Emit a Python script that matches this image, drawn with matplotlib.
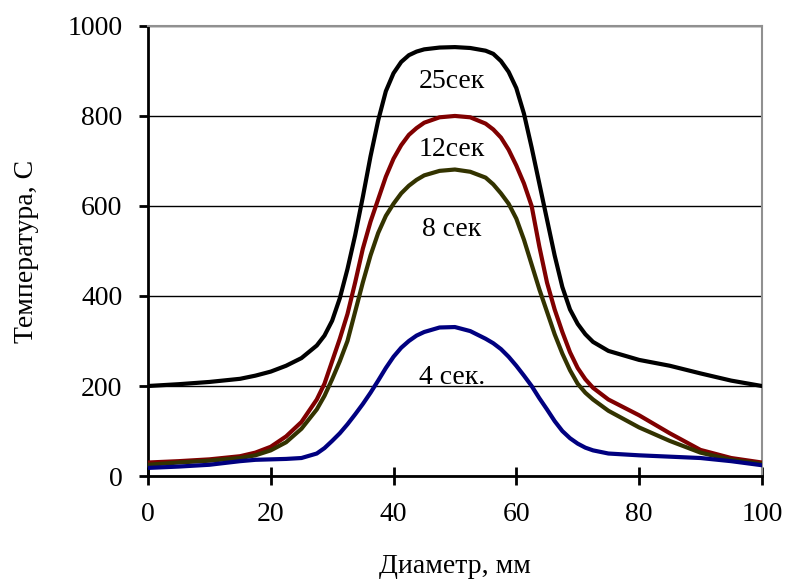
import matplotlib
matplotlib.use("Agg")
import matplotlib.pyplot as plt

plt.rcParams["font.family"] = ["Liberation Serif", "DejaVu Serif"]

# diameter, mm
x = [0, 5, 10, 15, 17.5, 20, 22.5, 25,
     27.5, 28.75, 30, 31.25, 32.5, 33.75, 35, 36.25, 37.5, 38.75, 40, 41.25, 42.5, 43.75, 45,
     47.5, 50, 52.5,
     55, 56.25, 57.5, 58.75, 60, 61.25, 62.5, 63.75, 65, 66.25, 67.5, 68.75, 70, 71.25, 72.5,
     75, 80, 85, 90, 95, 100]

# temperature, C
t25 = [200, 204, 209, 216, 223, 232, 245, 262,
       290, 312, 345, 395, 460, 535, 620, 710, 790, 855, 895, 920, 935, 943, 948,
       952, 953, 951,
       945, 938, 922, 898, 862, 805, 730, 650, 570, 490, 420, 370, 338, 315, 298,
       278, 258, 245, 228, 212, 200]
t12 = [30, 33, 37, 44, 52, 65, 88, 120,
       170, 205, 255, 305, 360, 430, 505, 565, 615, 665, 705, 735, 758, 773, 785,
       797, 800, 797,
       783, 770, 752, 725, 690, 650, 600, 510, 430, 370, 320, 275, 240, 215, 196,
       170, 135, 95, 58, 40, 30]
t8 = [25, 30, 34, 40, 46, 57, 75, 105,
      148, 178, 215, 255, 300, 365, 430, 490, 540, 578, 605, 628, 645, 658, 668,
      678, 681, 676,
      663, 648, 628, 605, 572, 525, 470, 415, 365, 315, 272, 235, 205, 185, 170,
      145, 108, 78, 52, 36, 27]
t4 = [18, 21, 25, 33, 36, 37, 38, 40,
      50, 62, 78, 95, 115, 137, 160, 185, 212, 240, 265, 285, 300, 312, 320,
      330, 331, 322,
      305, 295, 282, 265, 245, 223, 200, 173, 148, 122, 100, 84, 72, 63, 57,
      50, 46, 43, 40, 33, 24]

labels = ["25сек", "12сек", "8 сек", "4 сек."]
label_y = [877, 726, 548, 218]
colors = ["#000000", "#800000", "#333300", "#000080"]

fig = plt.figure(figsize=(7.85, 5.83), dpi=100)
ax = fig.add_axes([0.1885, 0.1835, 0.782, 0.772])

for t, c in zip([t25, t12, t8, t4], colors):
    ax.plot(x, t, color=c, linewidth=3, solid_capstyle="round",
            solid_joinstyle="round", zorder=3)

for lab, ly in zip(labels, label_y):
    ax.text(49.5, ly, lab, ha="center", va="center", fontsize=20, zorder=4)

ax.set_xlim(0, 100)
ax.set_ylim(0, 1000)
ax.set_xticks([0, 20, 40, 60, 80, 100])
ax.set_yticks([0, 200, 400, 600, 800, 1000])

ax.yaxis.grid(True, color="black", linewidth=1.0)
ax.spines["left"].set_linewidth(2)
ax.spines["bottom"].set_linewidth(2)
ax.spines["top"].set_color("#909090")
ax.spines["right"].set_color("#909090")
ax.spines["top"].set_linewidth(1.5)
ax.spines["right"].set_linewidth(1.5)

ax.tick_params(axis="y", direction="out", length=6.5, width=2, pad=12, labelsize=20)
ax.tick_params(axis="x", direction="inout", length=13, width=2, pad=12, labelsize=20)

ax.set_xlabel("Диаметр, мм", fontsize=20, labelpad=20)
ax.set_ylabel("Температура, С", fontsize=20, labelpad=20)

fig.savefig("out.png", dpi=100)
